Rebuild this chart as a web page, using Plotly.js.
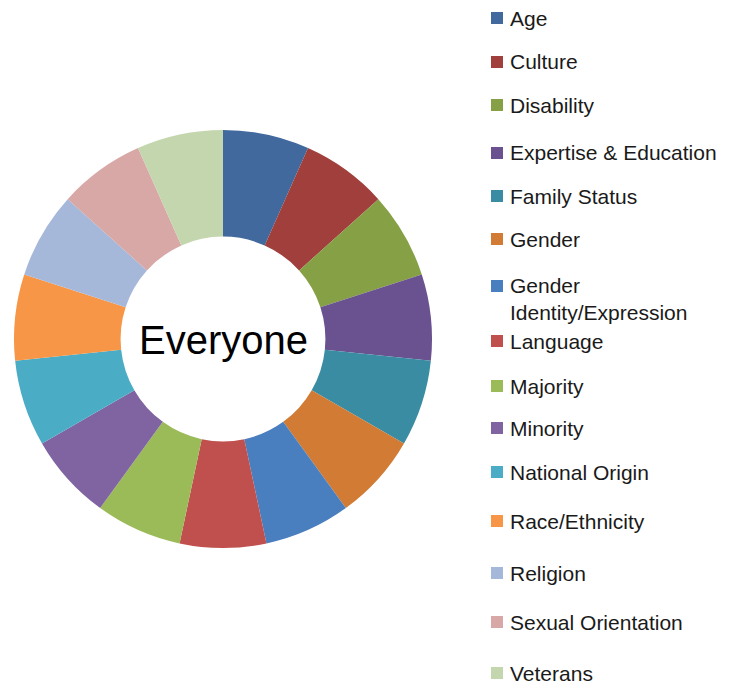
<!DOCTYPE html>
<html>
<head>
<meta charset="utf-8">
<script src="https://cdn.plot.ly/plotly-3.0.1.min.js"></script>
<style>html,body{margin:0;padding:0;background:#fff;}#chart{width:736px;height:686px;}</style>
</head>
<body>
<div id="chart"></div>
<script>
// ---- data ----
var categories = ["Age", "Culture", "Disability", "Expertise & Education", "Family Status",
  "Gender", "Gender Identity/Expression", "Language", "Majority", "Minority",
  "National Origin", "Race/Ethnicity", "Religion", "Sexual Orientation", "Veterans"];
var shares = [1, 1, 1, 1, 1, 1, 1, 1, 1, 1, 1, 1, 1, 1, 1];
var centerLabel = "Everyone";

// ---- styles ----
var colors = ["#41699E", "#A03F3C", "#85A045", "#6A5290", "#3A8CA3",
  "#D17B35", "#4A7FBF", "#C0504D", "#9BBB59", "#8064A2",
  "#4BACC6", "#F79646", "#A6B8DA", "#D8A8A7", "#C4D6AD"];

var W = 736, H = 686;
// legend row centres (px from top) of the first text line
var legendRowY = [18, 62, 105, 153, 196, 239, 286, 341, 386, 428, 472, 521, 573, 622, 673];
var swatchX = 491, swatchSize = 12, textX = 509, fontSize = 21, lineGap = 26;

function px2x(p) { return p / W; }
function px2y(p) { return 1 - p / H; }

var shapes = [], annotations = [];
categories.forEach(function (c, i) {
  var text = c.length > 22 ? c.replace(" ", "<br>") : c;
  var lines = text.split("<br>").length;
  var yc = legendRowY[i];
  shapes.push({
    type: "rect", xref: "paper", yref: "paper",
    x0: px2x(swatchX), x1: px2x(swatchX + swatchSize),
    y0: px2y(yc + swatchSize / 2), y1: px2y(yc - swatchSize / 2),
    fillcolor: colors[i], line: { width: 0 }
  });
  annotations.push({
    xref: "paper", yref: "paper", x: px2x(textX), y: px2y(yc + (lines - 1) * lineGap / 2),
    xanchor: "left", yanchor: "middle", align: "left", showarrow: false, borderpad: 0,
    text: text, font: { family: "Liberation Sans, Arial, sans-serif", size: fontSize, color: "#1a1a1a" }
  });
});
annotations.push({
  xref: "paper", yref: "paper", x: px2x(223), y: px2y(340),
  xanchor: "center", yanchor: "middle", showarrow: false,
  text: centerLabel, font: { family: "Liberation Sans, Arial, sans-serif", size: 40, color: "#000" }
});

var trace = {
  type: "pie",
  labels: categories,
  values: shares,
  hole: 0.49,
  sort: false,
  direction: "clockwise",
  rotation: 0,
  textinfo: "none",
  hoverinfo: "label",
  marker: { colors: colors, line: { width: 0 } },
  domain: { x: [px2x(14), px2x(432)], y: [px2y(548), px2y(130)] },
  showlegend: false
};

var layout = {
  width: W, height: H,
  margin: { l: 0, r: 0, t: 0, b: 0 },
  paper_bgcolor: "#fff",
  showlegend: false,
  shapes: shapes,
  annotations: annotations
};

Plotly.newPlot("chart", [trace], layout, { displayModeBar: false, staticPlot: true });
</script>
</body>
</html>
